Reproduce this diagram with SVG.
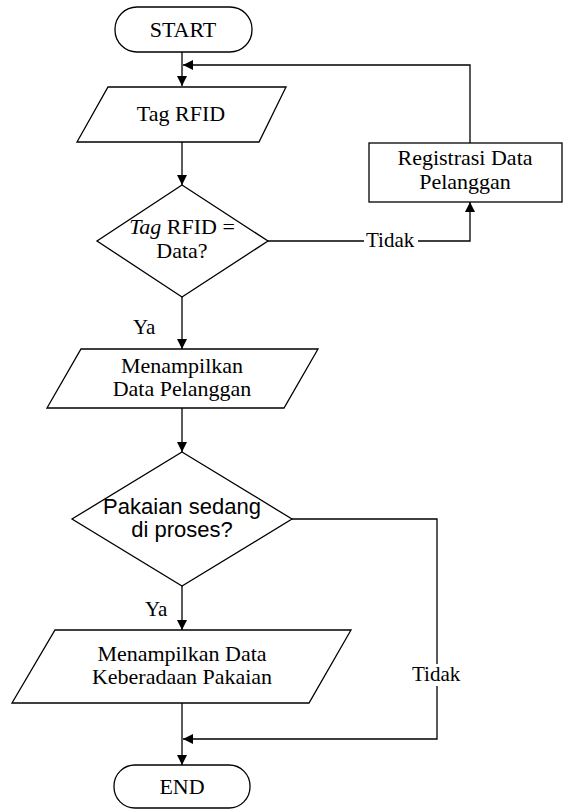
<svg xmlns="http://www.w3.org/2000/svg" width="563" height="810" viewBox="0 0 563 810">
  <style>
    .shape { fill: #ffffff; stroke: #000000; stroke-width: 1.3; }
    .line { fill: none; stroke: #000000; stroke-width: 1.3; }
    .serif { font-family: "Liberation Serif", "Times New Roman", serif; font-size: 22px; fill: #000000; text-anchor: middle; }
    .sans { font-family: "Liberation Sans", Arial, sans-serif; font-size: 22px; fill: #000000; text-anchor: middle; }
    .lbl { font-family: "Liberation Serif", "Times New Roman", serif; font-size: 21px; fill: #000000; }
  </style>
  <defs>
    <marker id="arrow" viewBox="0 0 10 10" refX="10" refY="5" markerWidth="10" markerHeight="10" markerUnits="userSpaceOnUse" orient="auto">
      <path d="M0,0 L10,5 L0,10 z" fill="#000000"/>
    </marker>
  </defs>

  <!-- connectors -->
  <g id="connectors">
    <path class="line" d="M182,52 V86" marker-end="url(#arrow)"/>
    <path class="line" d="M470,143 V65 H183" marker-end="url(#arrow)"/>
    <path class="line" d="M182,142 V185" marker-end="url(#arrow)"/>
    <path class="line" d="M268,241 H470 V202" marker-end="url(#arrow)"/>
    <path class="line" d="M182,297 V349" marker-end="url(#arrow)"/>
    <path class="line" d="M182,408 V452" marker-end="url(#arrow)"/>
    <path class="line" d="M182,586 V630" marker-end="url(#arrow)"/>
    <path class="line" d="M292,519 H437 V739 H183" marker-end="url(#arrow)"/>
    <path class="line" d="M182,703 V765" marker-end="url(#arrow)"/>
    <!-- branch labels -->
    <rect x="364" y="230" width="54" height="22" fill="#ffffff"/>
    <text class="lbl" x="366" y="247">Tidak</text>
    <text class="lbl" x="133" y="334">Ya</text>
    <text class="lbl" x="145" y="616">Ya</text>
    <rect x="410" y="664" width="54" height="22" fill="#ffffff"/>
    <text class="lbl" x="412" y="681">Tidak</text>
  </g>

  <g id="start">
    <rect class="shape" x="115" y="7" width="137" height="45" rx="22" ry="22"/>
    <text class="serif" x="183" y="37">START</text>
  </g>

  <g id="tag-rfid">
    <polygon class="shape" points="108,87 286,87 259,142 77,142"/>
    <text class="serif" x="181" y="121">Tag RFID</text>
  </g>

  <g id="cek-tag">
    <polygon class="shape" points="182,185 268,241 182,297 97,241"/>
    <text class="serif" x="182" y="234"><tspan font-style="italic">Tag</tspan> RFID =</text>
    <text class="serif" x="182" y="258">Data?</text>
  </g>

  <g id="registrasi">
    <rect class="shape" x="369" y="143" width="193" height="59"/>
    <text class="serif" x="465" y="165">Registrasi Data</text>
    <text class="serif" x="465" y="189">Pelanggan</text>
  </g>

  <g id="data-pelanggan">
    <polygon class="shape" points="81,349 318,349 284,408 47,408"/>
    <text class="serif" x="182" y="373">Menampilkan</text>
    <text class="serif" x="182" y="396">Data Pelanggan</text>
  </g>

  <g id="cek-proses">
    <polygon class="shape" points="182,452 292,519 182,586 72,519"/>
    <text class="sans" x="182" y="514">Pakaian sedang</text>
    <text class="sans" x="182" y="537">di proses?</text>
  </g>

  <g id="keberadaan">
    <polygon class="shape" points="55,630 351,630 309,703 12,703"/>
    <text class="serif" x="182" y="661">Menampilkan Data</text>
    <text class="serif" x="182" y="684">Keberadaan Pakaian</text>
  </g>

  <g id="end">
    <rect class="shape" x="114" y="765" width="136" height="43" rx="21" ry="21"/>
    <text class="serif" x="182" y="794">END</text>
  </g>
</svg>
